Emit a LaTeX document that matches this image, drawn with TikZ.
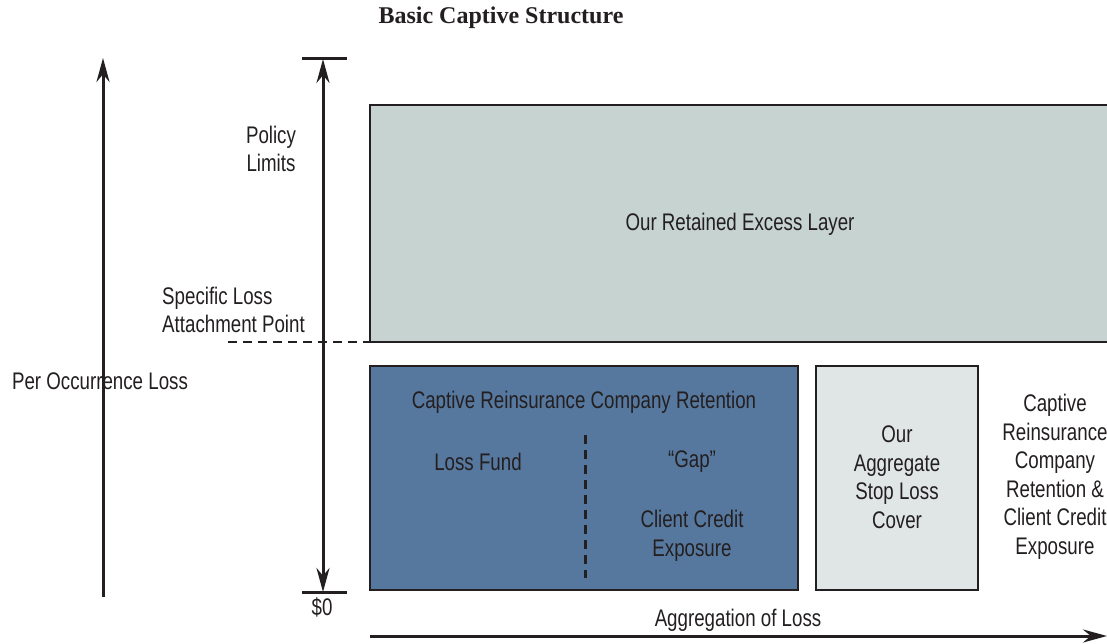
\documentclass[tikz,border=0pt]{standalone}
\usepackage{fontspec}
\setmainfont{Liberation Sans}[FakeStretch=0.78]
\newfontfamily\titlefont{Liberation Serif}
\usetikzlibrary{arrows.meta,positioning}

\definecolor{excessgreen}{HTML}{C6D3D0}
\definecolor{retentionblue}{HTML}{57789E}
\definecolor{stoplossgrey}{HTML}{DFE6E5}
\definecolor{inkgrey}{HTML}{231F20}

\begin{document}
\begin{tikzpicture}
      [
        x=1pt, y=-1pt,
        font=\fontsize{24}{28.5}\selectfont,
        text=inkgrey,
        LayerBox/.style={draw=inkgrey, line width=2.5pt},
        AxisArrow/.style={draw=inkgrey, line width=3pt, -{Stealth[length=24pt, width=13pt]}},
        AxisBar/.style={draw=inkgrey, line width=3pt},
        Caption/.style={align=center, inner sep=0pt},
      ]
      \useasboundingbox (0,0) rectangle (1107,644);

      \node [font=\titlefont\bfseries\fontsize{24}{28}\selectfont] (title) at (501,18) {Basic Captive Structure};

      % layers
      \draw [LayerBox, fill=excessgreen] (1120,105) -- (370,105) -- (370,342) -- (1120,342);
      \node [Caption] (excess) at (740,224) {Our Retained Excess Layer};

      \draw [LayerBox, fill=retentionblue] (370,366) rectangle (798,590);
      \coordinate (gaptop) at (585,435);
      \coordinate (gapbot) at (585,578);
      \draw [draw=inkgrey, line width=3pt, dash pattern=on 9pt off 6pt] (gaptop) -- (gapbot);
      \node [Caption] (retention) at (584,402) {Captive Reinsurance Company Retention};
      \node [Caption] (fund) at (478,462) {Loss Fund};
      \node [Caption] (gap) at (692,462) {“Gap”};
      \node [Caption] (credit) at (692,536) {Client Credit\\Exposure};

      \draw [LayerBox, fill=stoplossgrey] (816,366) rectangle (978,590);
      \node [Caption] (stoploss) at (897,477) {Our\\Aggregate\\Stop Loss\\Cover};

      \node [Caption] (captive) at (1055,477) {Captive\\Reinsurance\\Company\\Retention \&\\Client Credit\\Exposure};

      % axes
      \coordinate (occbot) at (103,597);
      \coordinate (occtop) at (103,58);
      \draw [AxisArrow] (occbot) -- (occtop);
      \node [Caption] (occurrence) at (100,381) {Per Occurrence Loss};

      \coordinate (limtop) at (323,59);
      \coordinate (limbot) at (323,592);
      \draw [AxisBar] (302,59) -- (347,59);
      \draw [AxisBar] (302,592) -- (347,592);
      \draw [AxisArrow, {Stealth[length=24pt, width=13pt]}-{Stealth[length=24pt, width=13pt]}] (limbot) -- (limtop);
      \node [Caption] (zero) at (322,607) {\$0};
      \node [Caption] (limits) at (271,149) {Policy\\Limits};
      \node [Caption, align=left, anchor=west] (attach) at (162,310) {Specific Loss\\Attachment Point};

      \coordinate (attachend) at (228,342);
      \draw [draw=inkgrey, line width=2.5pt, dash pattern=on 9pt off 6pt] (attachend) -- (370,342);

      \coordinate (aggstart) at (370,636);
      \coordinate (aggend) at (1107,636);
      \draw [AxisArrow] (aggstart) -- (aggend);
      \node [Caption] (aggregation) at (738,620) {Aggregation of Loss};
\end{tikzpicture}
\end{document}
